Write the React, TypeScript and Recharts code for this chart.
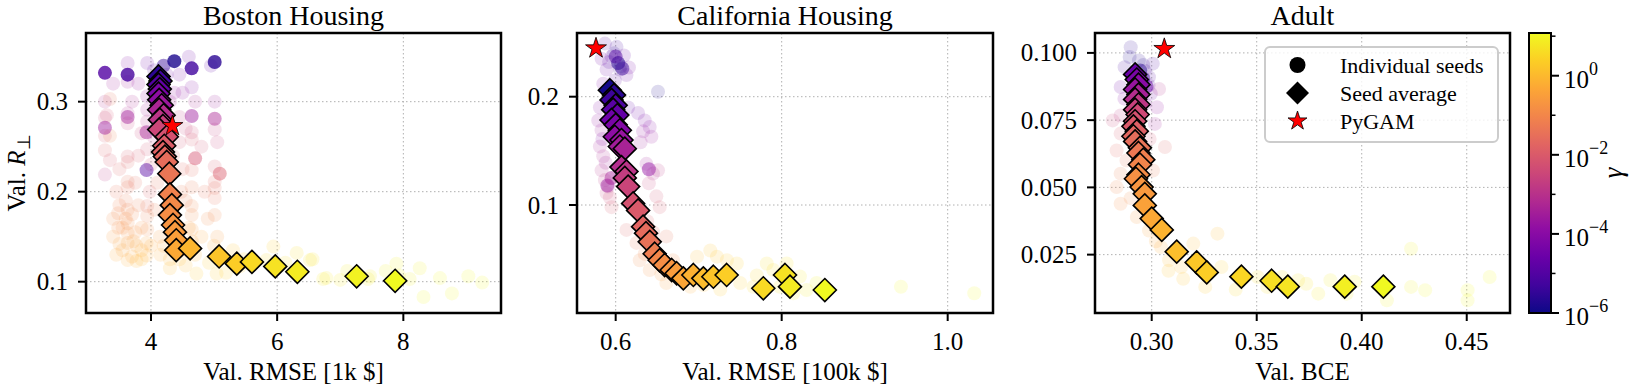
import React from "react";
import { ScatterChart, Scatter, XAxis, YAxis, CartesianGrid, ReferenceArea } from "recharts";

// [x, y, log10(gamma)]
type Pt = [number, number, number];

const FONT = '"Liberation Serif", "Times New Roman", Times, serif';
const H = 387;

// ---------- Boston Housing ----------
const bostonXTicks = [4, 6, 8];
const bostonXLabels = ["4", "6", "8"];
const bostonYTicks = [0.1, 0.2, 0.3];
const bostonYLabels = ["0.1", "0.2", "0.3"];

const bostonAvg: Pt[] = [
  [4.12, 0.328, -5.6], [4.15, 0.323, -5.3], [4.12, 0.319, -5.0], [4.14, 0.314, -4.7],
  [4.12, 0.309, -4.3], [4.13, 0.302, -3.9], [4.17, 0.296, -3.6], [4.13, 0.291, -3.3],
  [4.2, 0.285, -3.1], [4.14, 0.28, -2.9], [4.19, 0.273, -2.65], [4.13, 0.269, -2.45],
  [4.25, 0.261, -2.2], [4.21, 0.251, -1.95], [4.19, 0.244, -1.8], [4.22, 0.239, -1.7],
  [4.25, 0.233, -1.55], [4.29, 0.22, -1.35], [4.3, 0.197, -1.1], [4.33, 0.185, -0.95],
  [4.3, 0.174, -0.85], [4.35, 0.163, -0.72], [4.38, 0.155, -0.6], [4.4, 0.146, -0.48],
  [4.4, 0.135, -0.3], [4.62, 0.137, -0.05], [5.08, 0.128, 0.2], [5.36, 0.12, 0.35],
  [5.6, 0.122, 0.55], [5.97, 0.117, 0.7], [6.32, 0.111, 0.85], [7.26, 0.106, 0.97],
  [7.87, 0.101, 1.08],
];

const bostonSeeds: Pt[] = [
  [3.27, 0.3, -3.0], [3.27, 0.282, -2.5], [3.27, 0.262, -2.0], [3.27, 0.246, -1.9],
  [3.27, 0.219, -2.8], [3.35, 0.303, -1.5], [3.35, 0.262, -1.2], [3.3, 0.285, -2.2],
  [3.63, 0.343, -4.0], [3.63, 0.322, -3.5], [3.63, 0.287, -3.2], [3.63, 0.276, -2.6],
  [3.63, 0.239, -2.0], [3.63, 0.233, -1.8], [3.63, 0.211, -1.5], [3.63, 0.205, -1.4],
  [3.63, 0.18, -1.0], [3.63, 0.165, -0.9], [3.63, 0.154, -0.7], [3.63, 0.143, -0.6],
  [3.63, 0.124, -0.2], [3.48, 0.176, -1.0], [3.48, 0.16, -0.8], [3.5, 0.142, -0.5],
  [3.45, 0.13, -0.3], [3.77, 0.14, -0.4], [3.77, 0.123, -0.1], [3.75, 0.155, -0.7],
  [3.94, 0.343, -4.5], [3.94, 0.306, -3.8], [3.94, 0.291, -3.4], [3.94, 0.278, -3.0],
  [3.94, 0.247, -2.3], [3.94, 0.184, -1.6], [3.94, 0.173, -1.2], [3.94, 0.158, -0.9],
  [3.93, 0.143, -0.4], [3.93, 0.129, -0.2], [3.98, 0.2, -1.9],
  [4.05, 0.335, -5.0], [4.25, 0.33, -4.5], [4.3, 0.3, -3.5], [4.3, 0.27, -2.6],
  [4.05, 0.26, -2.8], [4.35, 0.24, -1.9], [4.1, 0.21, -1.5], [4.14, 0.15, -0.6],
  [4.2, 0.14, -0.3], [4.3, 0.125, -0.1],
  [4.45, 0.33, -4.3], [4.37, 0.31, -3.8], [4.45, 0.283, -2.8], [4.45, 0.255, -2.3],
  [4.5, 0.225, -1.7], [4.48, 0.2, -1.3],
  [4.645, 0.316, -4.0], [4.645, 0.266, -2.4], [4.645, 0.258, -2.1], [4.645, 0.224, -1.6],
  [4.645, 0.205, -1.3], [4.645, 0.184, -1.0], [4.645, 0.174, -0.9], [4.645, 0.158, -0.6],
  [4.645, 0.145, -0.4], [4.6, 0.35, -4.5],
  [5.01, 0.3, -3.6], [5.01, 0.269, -2.7], [5.01, 0.228, -2.0], [5.01, 0.211, -1.7],
  [5.01, 0.204, -1.6], [5.01, 0.193, -1.4], [5.01, 0.174, -1.0], [5.05, 0.15, -0.6],
  [4.95, 0.34, -4.8],
  [3.55, 0.135, -0.4], [3.7, 0.128, -0.3], [3.85, 0.135, -0.2], [4.0, 0.14, -0.3],
  [3.4, 0.17, -0.9], [3.6, 0.17, -0.8], [3.85, 0.16, -0.7], [4.6, 0.16, -0.5],
  [4.8, 0.15, -0.3], [5.0, 0.14, -0.2],
  [3.4, 0.15, -0.6], [3.5, 0.185, -1.1], [3.55, 0.16, -0.8], [3.7, 0.175, -1.0],
  [3.72, 0.145, -0.5], [3.8, 0.185, -1.2], [3.85, 0.125, -0.1], [3.6, 0.19, -1.3],
  [3.45, 0.2, -1.4], [3.5, 0.225, -1.8], [3.75, 0.21, -1.6], [3.8, 0.24, -2.1],
  [3.85, 0.265, -2.5], [3.7, 0.3, -3.2], [3.8, 0.32, -3.8], [3.4, 0.32, -3.5],
  [3.35, 0.235, -2.0], [4.55, 0.19, -1.2], [4.55, 0.27, -2.5], [4.7, 0.3, -3.3],
  [4.8, 0.25, -2.3], [4.85, 0.2, -1.4], [4.9, 0.17, -0.9], [5.05, 0.255, -2.6],
  [4.5, 0.14, -0.3], [4.7, 0.13, -0.1], [4.15, 0.13, -0.2], [4.05, 0.18, -1.2],
  [4.0, 0.23, -2.0], [4.5, 0.31, -3.9],
  [4.72, 0.109, 0.3], [5.04, 0.109, 0.3], [5.3, 0.135, 0.2], [5.41, 0.117, 0.4],
  [5.83, 0.124, 0.5], [5.94, 0.139, 0.4], [6.31, 0.132, 0.6], [6.52, 0.124, 0.7],
  [6.78, 0.104, 0.8], [7.0, 0.102, 0.8], [7.47, 0.106, 0.9], [7.89, 0.12, 1.0],
  [8.26, 0.115, 1.0], [8.58, 0.104, 1.05], [9.03, 0.106, 1.05], [8.77, 0.087, 1.05],
  [8.32, 0.083, 1.05], [4.92, 0.121, 0.3], [5.19, 0.11, 0.35], [5.47, 0.125, 0.4],
  [6.13, 0.121, 0.6], [6.56, 0.125, 0.7], [6.73, 0.103, 0.8], [7.11, 0.112, 0.85],
  [7.44, 0.103, 0.9], [7.72, 0.112, 0.95], [7.93, 0.107, 1.0], [8.1, 0.103, 1.0],
  [9.25, 0.099, 1.08], [4.55, 0.118, 0.1], [4.3, 0.115, 0.0], [4.45, 0.125, 0.0],
];

const bostonSeedsDense: Pt[] = [
  [3.27, 0.271, -3.6], [3.63, 0.283, -3.5], [3.93, 0.224, -5.0], [3.93, 0.266, -3.4],
  [4.645, 0.284, -3.6], [5.01, 0.281, -3.3], [4.7, 0.237, -2.2], [5.09, 0.22, -2.0],
  [4.1, 0.315, -5.2], [4.2, 0.34, -5.5],
];

const bostonSeedsSolid: Pt[] = [
  [3.27, 0.332, -5.0], [3.63, 0.33, -5.2], [4.37, 0.345, -5.8], [4.645, 0.337, -5.3],
  [5.01, 0.344, -5.6],
];

const bostonPyGAM: [number, number] = [4.34, 0.273];

// ---------- California Housing ----------
const californiaXTicks = [0.6, 0.8, 1.0];
const californiaXLabels = ["0.6", "0.8", "1.0"];
const californiaYTicks = [0.1, 0.2];
const californiaYLabels = ["0.1", "0.2"];

const californiaAvg: Pt[] = [
  [0.593, 0.206, -5.9], [0.598, 0.2015, -5.6], [0.595, 0.197, -5.35], [0.6, 0.192, -5.1],
  [0.597, 0.188, -4.9], [0.602, 0.183, -4.7], [0.595, 0.1785, -4.5], [0.6, 0.174, -4.3],
  [0.605, 0.169, -4.1], [0.599, 0.163, -3.9], [0.607, 0.16, -3.7], [0.605, 0.154, -3.5],
  [0.611, 0.152, -3.35], [0.607, 0.135, -3.1], [0.613, 0.131, -2.9], [0.611, 0.125, -2.7],
  [0.615, 0.117, -2.5], [0.621, 0.1015, -2.2], [0.627, 0.095, -2.0], [0.633, 0.08, -1.75],
  [0.6365, 0.074, -1.6], [0.641, 0.066, -1.45], [0.647, 0.055, -1.2], [0.653, 0.049, -1.0],
  [0.659, 0.0446, -0.85], [0.6675, 0.04, -0.7], [0.6735, 0.037, -0.55], [0.6815, 0.0323, -0.35],
  [0.6936, 0.0354, -0.15], [0.7056, 0.0323, 0.05], [0.7177, 0.0338, 0.2], [0.7337, 0.0354, 0.35],
  [0.7779, 0.0231, 0.55], [0.804, 0.0354, 0.7], [0.81, 0.0246, 0.85], [0.852, 0.0215, 1.08],
];

const californiaSeeds: Pt[] = [
  [0.587, 0.249, -5.0], [0.601, 0.246, -5.2], [0.595, 0.237, -4.8], [0.603, 0.231, -5.5],
  [0.589, 0.225, -4.6], [0.605, 0.225, -5.3], [0.613, 0.22, -4.5], [0.599, 0.215, -4.9],
  [0.585, 0.212, -4.2], [0.592, 0.232, -5.1], [0.61, 0.238, -4.7], [0.598, 0.24, -5.6],
  [0.606, 0.228, -5.8], [0.583, 0.235, -4.4], [0.616, 0.227, -4.3], [0.651, 0.2046, -5.8],
  [0.581, 0.19, -4.0], [0.579, 0.178, -3.8], [0.583, 0.169, -3.6], [0.581, 0.154, -3.4],
  [0.585, 0.145, -3.2], [0.583, 0.132, -3.0], [0.587, 0.123, -2.8], [0.591, 0.117, -3.3],
  [0.589, 0.111, -2.6], [0.584, 0.161, -4.2], [0.588, 0.139, -3.5], [0.593, 0.107, -2.4],
  [0.595, 0.098, -2.0],
  [0.627, 0.185, -4.5], [0.635, 0.178, -4.3], [0.641, 0.172, -4.0], [0.633, 0.168, -3.8],
  [0.643, 0.163, -3.7], [0.63, 0.158, -3.6], [0.637, 0.138, -3.5], [0.645, 0.129, -3.2],
  [0.651, 0.132, -2.9], [0.64, 0.12, -2.6], [0.615, 0.19, -4.8],
  [0.617, 0.1015, -2.1], [0.649, 0.108, -2.3], [0.653, 0.098, -2.0], [0.661, 0.071, -1.5],
  [0.613, 0.077, -1.8], [0.625, 0.065, -1.3], [0.638, 0.085, -1.9], [0.645, 0.075, -1.7],
  [0.629, 0.049, -0.9], [0.641, 0.04, -0.7], [0.669, 0.049, -0.8], [0.677, 0.031, -0.4],
  [0.661, 0.028, -0.5], [0.69, 0.0246, -0.2], [0.655, 0.036, -0.6], [0.635, 0.055, -1.0],
  [0.698, 0.0523, 0.0], [0.714, 0.058, 0.2], [0.722, 0.0523, 0.2], [0.734, 0.049, 0.3],
  [0.746, 0.046, 0.4], [0.75, 0.028, 0.4], [0.766, 0.0246, 0.5], [0.782, 0.046, 0.6],
  [0.79, 0.04, 0.6], [0.806, 0.046, 0.7], [0.822, 0.034, 0.8], [0.83, 0.0215, 0.9],
  [0.814, 0.0185, 0.85], [0.842, 0.028, 0.95], [0.798, 0.0246, 0.7], [0.706, 0.026, 0.1],
  [0.726, 0.022, 0.25], [0.77, 0.035, 0.55], [0.9437, 0.0246, 1.08], [1.032, 0.0185, 1.08],
];

const californiaSeedsDense: Pt[] = [
  [0.603, 0.231, -5.6], [0.608, 0.226, -5.4], [0.6, 0.237, -5.0], [0.59, 0.118, -3.6],
  [0.595, 0.125, -3.4], [0.64, 0.133, -3.8],
];

const californiaPyGAM: [number, number] = [0.5763, 0.2447];

// ---------- Adult ----------
const adultXTicks = [0.3, 0.35, 0.4, 0.45];
const adultXLabels = ["0.30", "0.35", "0.40", "0.45"];
const adultYTicks = [0.025, 0.05, 0.075, 0.1];
const adultYLabels = ["0.025", "0.050", "0.075", "0.100"];

const adultAvg: Pt[] = [
  [0.2921, 0.092, -4.6], [0.2929, 0.0901, -4.3], [0.2937, 0.0882, -4.0], [0.2921, 0.0864, -3.7],
  [0.2937, 0.0845, -3.4], [0.2921, 0.0827, -3.1], [0.2937, 0.0808, -2.85], [0.2921, 0.0789, -2.6],
  [0.2933, 0.0771, -2.4], [0.2921, 0.0746, -2.2], [0.2913, 0.0727, -2.0], [0.2929, 0.0709, -1.85],
  [0.2913, 0.069, -1.7], [0.2921, 0.0671, -1.55], [0.2944, 0.0647, -1.4], [0.2937, 0.0628, -1.3],
  [0.296, 0.0603, -1.15], [0.2944, 0.0585, -1.05], [0.2937, 0.0547, -0.9], [0.2925, 0.0532, -0.8],
  [0.2952, 0.0501, -0.7], [0.2967, 0.0476, -0.6], [0.2967, 0.0433, -0.45], [0.3, 0.0384, -0.3],
  [0.3048, 0.0342, -0.1], [0.3119, 0.0261, 0.1], [0.3214, 0.0221, 0.25], [0.3262, 0.0184, 0.35],
  [0.3427, 0.0168, 0.5], [0.3571, 0.0153, 0.65], [0.3648, 0.0131, 0.75], [0.3919, 0.0131, 0.92],
  [0.4103, 0.0131, 1.08],
];

const adultSeeds: Pt[] = [
  [0.29, 0.1021, -5.5], [0.2871, 0.0947, -5.2], [0.2939, 0.0972, -5.6], [0.2967, 0.0934, -5.3],
  [0.2987, 0.091, -5.0], [0.2852, 0.0873, -4.5], [0.2929, 0.0873, -4.8], [0.2996, 0.0848, -4.5],
  [0.2967, 0.0811, -4.2], [0.3025, 0.0798, -3.8], [0.3035, 0.0866, -3.0], [0.3015, 0.0736, -3.5],
  [0.2814, 0.0749, -2.5], [0.2852, 0.0767, -2.8], [0.2895, 0.0985, -5.8], [0.296, 0.0955, -5.7],
  [0.291, 0.0905, -5.4], [0.2985, 0.088, -4.9], [0.287, 0.083, -4.0], [0.3005, 0.096, -5.1],
  [0.2852, 0.07, -2.0], [0.2833, 0.0637, -1.7], [0.3063, 0.065, -1.8], [0.2852, 0.0551, -1.2],
  [0.3006, 0.0563, -1.3], [0.288, 0.06, -1.5], [0.299, 0.068, -2.2],
  [0.2833, 0.0501, -1.0], [0.2852, 0.0439, -0.8], [0.2929, 0.039, -0.6], [0.2987, 0.034, -0.4],
  [0.3044, 0.0278, -0.2], [0.3083, 0.0229, 0.0], [0.3198, 0.0291, 0.0], [0.3313, 0.0328, 0.1],
  [0.314, 0.0204, 0.1], [0.29, 0.046, -0.9], [0.302, 0.03, -0.3],
  [0.3255, 0.013, 0.3], [0.3332, 0.0204, 0.4], [0.3428, 0.0179, 0.5], [0.3505, 0.0167, 0.6],
  [0.362, 0.0167, 0.7], [0.3736, 0.0142, 0.75], [0.3793, 0.0105, 0.8], [0.3697, 0.0155, 0.7],
  [0.3851, 0.0155, 0.85], [0.3966, 0.0149, 0.9], [0.4235, 0.0272, 1.0], [0.4235, 0.013, 1.0],
  [0.4302, 0.0118, 1.05], [0.4504, 0.0118, 1.08], [0.4504, 0.008, 1.08], [0.4609, 0.0167, 1.08],
  [0.412, 0.008, 1.0], [0.3928, 0.0105, 0.9], [0.355, 0.013, 0.6], [0.34, 0.012, 0.5],
  [0.315, 0.016, 0.2], [0.308, 0.019, 0.15],
];

const adultSeedsDense: Pt[] = [
  [0.2945, 0.0935, -5.6], [0.296, 0.0905, -5.3], [0.293, 0.0885, -5.0], [0.2975, 0.0875, -4.6],
];

const adultPyGAM: [number, number] = [0.306, 0.1015];

// ---------- colour bar (gamma, log scale) ----------
const cbMajor = [1e-6, 1e-4, 1e-2, 1];
const cbMinor = [1e-5, 1e-3, 1e-1, 10];
const LG_MIN = -6;
const LG_MAX = 1.08;

// plasma colormap, sampled every 0.1
const PLASMA = [
  "#0d0887", "#41049d", "#6a00a8", "#8f0da4", "#b12a90", "#cc4778",
  "#e16462", "#f2844b", "#fca636", "#fcce25", "#f0f921",
];

function plasma(t: number) {
  const c = Math.min(1, Math.max(0, t)) * (PLASMA.length - 1);
  const i = Math.min(PLASMA.length - 2, Math.floor(c));
  const f = c - i;
  const a = PLASMA[i];
  const b = PLASMA[i + 1];
  const ch = (h: string, k: number) => parseInt(h.slice(1 + 2 * k, 3 + 2 * k), 16);
  const mix = [0, 1, 2].map((k) => Math.round(ch(a, k) + (ch(b, k) - ch(a, k)) * f));
  return `rgb(${mix[0]},${mix[1]},${mix[2]})`;
}
const gammaColor = (lg: number) => plasma((lg - LG_MIN) / (LG_MAX - LG_MIN));

const toPts = (a: Pt[]) => a.map(([x, y, lg]) => ({ x, y, lg }));

function starPath(cx: number, cy: number, R: number) {
  const r = R * 0.382;
  let d = "";
  for (let i = 0; i < 10; i++) {
    const rad = i % 2 === 0 ? R : r;
    const a = -Math.PI / 2 + (i * Math.PI) / 5;
    d += (i === 0 ? "M" : "L") + (cx + rad * Math.cos(a)).toFixed(2) + "," + (cy + rad * Math.sin(a)).toFixed(2);
  }
  return d + "Z";
}

const seedShape = (opacity: number) => (p: any) => (
  <circle cx={p.cx} cy={p.cy} r={7} fill={gammaColor(p.payload.lg)} fillOpacity={opacity} stroke="none" />
);

const avgShape = (p: any) => {
  const s = 11.5;
  return (
    <polygon
      points={`${p.cx},${p.cy - s} ${p.cx + s},${p.cy} ${p.cx},${p.cy + s} ${p.cx - s},${p.cy}`}
      fill={gammaColor(p.payload.lg)}
      stroke="#000"
      strokeWidth={1.6}
    />
  );
};

const starShape = (p: any) => <path d={starPath(p.cx, p.cy, 11)} fill="#ff0000" stroke="#000" strokeWidth={0.8} />;

type Frame = { left: number; right: number; top: number; bottom: number };

interface PanelProps {
  x0: number;
  w: number;
  frame: Frame;
  yAxisW: number;
  xDomain: [number, number];
  yDomain: [number, number];
  xTicks: number[];
  xLabels: string[];
  yTicks: number[];
  yLabels: string[];
  seeds: Pt[];
  dense: Pt[];
  solid: Pt[];
  avg: Pt[];
  pygam: [number, number];
}

const X_AXIS_H = 40;

function Panel(props: PanelProps) {
  const { x0, w, frame, yAxisW } = props;
  const margin = {
    top: frame.top,
    right: x0 + w - frame.right,
    bottom: H - frame.bottom - X_AXIS_H,
    left: frame.left - x0 - yAxisW,
  };

  const xTick = (p: any) => {
    const lab = props.xLabels[props.xTicks.indexOf(p.payload.value)];
    return (
      <g>
        <line x1={p.x} x2={p.x} y1={p.y} y2={p.y + 8} stroke="#000" strokeWidth={2} />
        <text x={p.x} y={p.y + 37} textAnchor="middle" fontFamily={FONT} fontSize={25} fill="#000">
          {lab}
        </text>
      </g>
    );
  };
  const yTick = (p: any) => {
    const lab = props.yLabels[props.yTicks.indexOf(p.payload.value)];
    return (
      <g>
        <line x1={p.x - 8} x2={p.x} y1={p.y} y2={p.y} stroke="#000" strokeWidth={2} />
        <text x={p.x - 18} y={p.y + 8.5} textAnchor="end" fontFamily={FONT} fontSize={25} fill="#000">
          {lab}
        </text>
      </g>
    );
  };

  return (
    <div style={{ position: "absolute", left: x0, top: 0 }}>
      <ScatterChart width={w} height={H} margin={margin}>
        <CartesianGrid stroke="#b0b0b0" strokeDasharray="1.5 2.5" strokeWidth={1} />
        <XAxis
          type="number"
          dataKey="x"
          domain={props.xDomain}
          ticks={props.xTicks}
          allowDataOverflow
          interval={0}
          height={X_AXIS_H}
          tickSize={0}
          tickMargin={0}
          tickLine={false}
          axisLine={false}
          tick={xTick}
        />
        <YAxis
          type="number"
          dataKey="y"
          domain={props.yDomain}
          ticks={props.yTicks}
          allowDataOverflow
          interval={0}
          width={yAxisW}
          tickSize={0}
          tickMargin={0}
          tickLine={false}
          axisLine={false}
          tick={yTick}
        />
        <Scatter data={toPts(props.seeds)} shape={seedShape(0.15)} isAnimationActive={false} />
        <Scatter data={toPts(props.dense)} shape={seedShape(0.45)} isAnimationActive={false} />
        <Scatter data={toPts(props.solid)} shape={seedShape(0.8)} isAnimationActive={false} />
        <Scatter data={toPts(props.avg)} shape={avgShape} isAnimationActive={false} />
        <Scatter data={[{ x: props.pygam[0], y: props.pygam[1] }]} shape={starShape} isAnimationActive={false} />
        <ReferenceArea
          x1={props.xDomain[0]}
          x2={props.xDomain[1]}
          y1={props.yDomain[0]}
          y2={props.yDomain[1]}
          fill="none"
          stroke="#000"
          strokeWidth={2.5}
        />
      </ScatterChart>
    </div>
  );
}

function ColorBar() {
  const x0 = 1520;
  const w = 112;
  const cbTicks = [...cbMajor, ...cbMinor].sort((a, b) => a - b);
  const tick = (p: any) => {
    const v = p.payload.value;
    const major = cbMajor.includes(v);
    const lg = Math.round(Math.log10(v));
    return (
      <g>
        <line x1={p.x} x2={p.x + (major ? 8 : 4.5)} y1={p.y} y2={p.y} stroke="#000" strokeWidth={major ? 2 : 1.5} />
        {major && (
          <text x={p.x + 13} y={p.y + 12} fontFamily={FONT} fontSize={25} fill="#000">
            10
            <tspan dy={-13} fontSize={18}>
              {lg === 0 ? "0" : "\u2212" + Math.abs(lg)}
            </tspan>
          </text>
        )}
      </g>
    );
  };
  return (
    <div style={{ position: "absolute", left: x0, top: 0 }}>
      <ScatterChart width={w} height={H} margin={{ top: 33, bottom: H - 313, left: 9, right: 0 }}>
        <XAxis type="number" dataKey="x" domain={[0, 1]} hide />
        <YAxis
          type="number"
          dataKey="y"
          orientation="right"
          scale="log"
          domain={[Math.pow(10, LG_MIN), Math.pow(10, LG_MAX)]}
          allowDataOverflow
          ticks={cbTicks}
          interval={0}
          width={81}
          tickSize={0}
          tickMargin={0}
          tickLine={false}
          axisLine={false}
          tick={tick}
        />
        <Scatter data={cbMajor.map((v) => ({ x: 0.5, y: v }))} shape={() => <g />} isAnimationActive={false} />
        <ReferenceArea
          x1={0}
          x2={1}
          y1={Math.pow(10, LG_MIN)}
          y2={Math.pow(10, LG_MAX)}
          fill="url(#plasmaGrad)"
          fillOpacity={1}
          stroke="#000"
          strokeWidth={2}
        />
      </ScatterChart>
    </div>
  );
}

export default function App() {
  const legendRows = [
    { label: "Individual seeds", y: 65 },
    { label: "Seed average", y: 93 },
    { label: "PyGAM", y: 121 },
  ];
  const mx = 1297.5;
  return (
    <div style={{ position: "absolute", left: 0, top: 0, width: 1632, height: H, background: "#fff", overflow: "hidden" }}>
      <svg width={0} height={0} style={{ position: "absolute" }}>
        <defs>
          <linearGradient id="plasmaGrad" x1="0" y1="1" x2="0" y2="0">
            {PLASMA.map((c, i) => (
              <stop key={i} offset={i / (PLASMA.length - 1)} stopColor={c} />
            ))}
          </linearGradient>
        </defs>
      </svg>

      <Panel
        x0={0}
        w={515}
        frame={{ left: 86, right: 501, top: 33, bottom: 313 }}
        yAxisW={70}
        xDomain={[2.97, 9.548]}
        yDomain={[0.0652, 0.3763]}
        xTicks={bostonXTicks}
        xLabels={bostonXLabels}
        yTicks={bostonYTicks}
        yLabels={bostonYLabels}
        seeds={bostonSeeds}
        dense={bostonSeedsDense}
        solid={bostonSeedsSolid}
        avg={bostonAvg}
        pygam={bostonPyGAM}
      />
      <Panel
        x0={515}
        w={495}
        frame={{ left: 577, right: 993, top: 33, bottom: 313 }}
        yAxisW={50}
        xDomain={[0.5534, 1.0546]}
        yDomain={[0.0003, 0.2588]}
        xTicks={californiaXTicks}
        xLabels={californiaXLabels}
        yTicks={californiaYTicks}
        yLabels={californiaYLabels}
        seeds={californiaSeeds}
        dense={californiaSeedsDense}
        solid={[]}
        avg={californiaAvg}
        pygam={californiaPyGAM}
      />
      <Panel
        x0={1010}
        w={510}
        frame={{ left: 1095, right: 1510, top: 33, bottom: 313 }}
        yAxisW={75}
        xDomain={[0.273, 0.4706]}
        yDomain={[0.0033, 0.1074]}
        xTicks={adultXTicks}
        xLabels={adultXLabels}
        yTicks={adultYTicks}
        yLabels={adultYLabels}
        seeds={adultSeeds}
        dense={adultSeedsDense}
        solid={[]}
        avg={adultAvg}
        pygam={adultPyGAM}
      />
      <ColorBar />

      <svg width={1632} height={H} style={{ position: "absolute", left: 0, top: 0, pointerEvents: "none" }}>
        <g fontFamily={FONT} fill="#000">
          <text x={293.5} y={25} textAnchor="middle" fontSize={28}>Boston Housing</text>
          <text x={785} y={25} textAnchor="middle" fontSize={28}>California Housing</text>
          <text x={1302.5} y={25} textAnchor="middle" fontSize={28}>Adult</text>

          <text x={293.5} y={380} textAnchor="middle" fontSize={25}>Val. RMSE [1k $]</text>
          <text x={785} y={380} textAnchor="middle" fontSize={25}>Val. RMSE [100k $]</text>
          <text x={1302.5} y={380} textAnchor="middle" fontSize={25}>Val. BCE</text>

          <text x={25} y={173} textAnchor="middle" fontSize={25} transform="rotate(-90 25 173)">
            Val. <tspan fontStyle="italic">R</tspan>
            <tspan dy={5} fontSize={18}>⊥</tspan>
          </text>
          <text x={1622} y={173} textAnchor="middle" fontSize={27} fontStyle="italic" transform="rotate(-90 1622 173)">
            γ
          </text>
        </g>

        <rect x={1265} y={47} width={233} height={95} rx={5} fill="#fff" fillOpacity={0.8} stroke="#cccccc" strokeWidth={2} />
        <circle cx={mx} cy={legendRows[0].y} r={8} fill="#000" />
        <polygon
          points={`${mx},${legendRows[1].y - 11.5} ${mx + 11.5},${legendRows[1].y} ${mx},${legendRows[1].y + 11.5} ${mx - 11.5},${legendRows[1].y}`}
          fill="#000"
        />
        <path d={starPath(mx, legendRows[2].y, 10)} fill="#ff0000" stroke="#000" strokeWidth={0.8} />
        {legendRows.map((r) => (
          <text key={r.label} x={1340} y={r.y + 8} fontFamily={FONT} fontSize={22} fill="#000">
            {r.label}
          </text>
        ))}
      </svg>
    </div>
  );
}
